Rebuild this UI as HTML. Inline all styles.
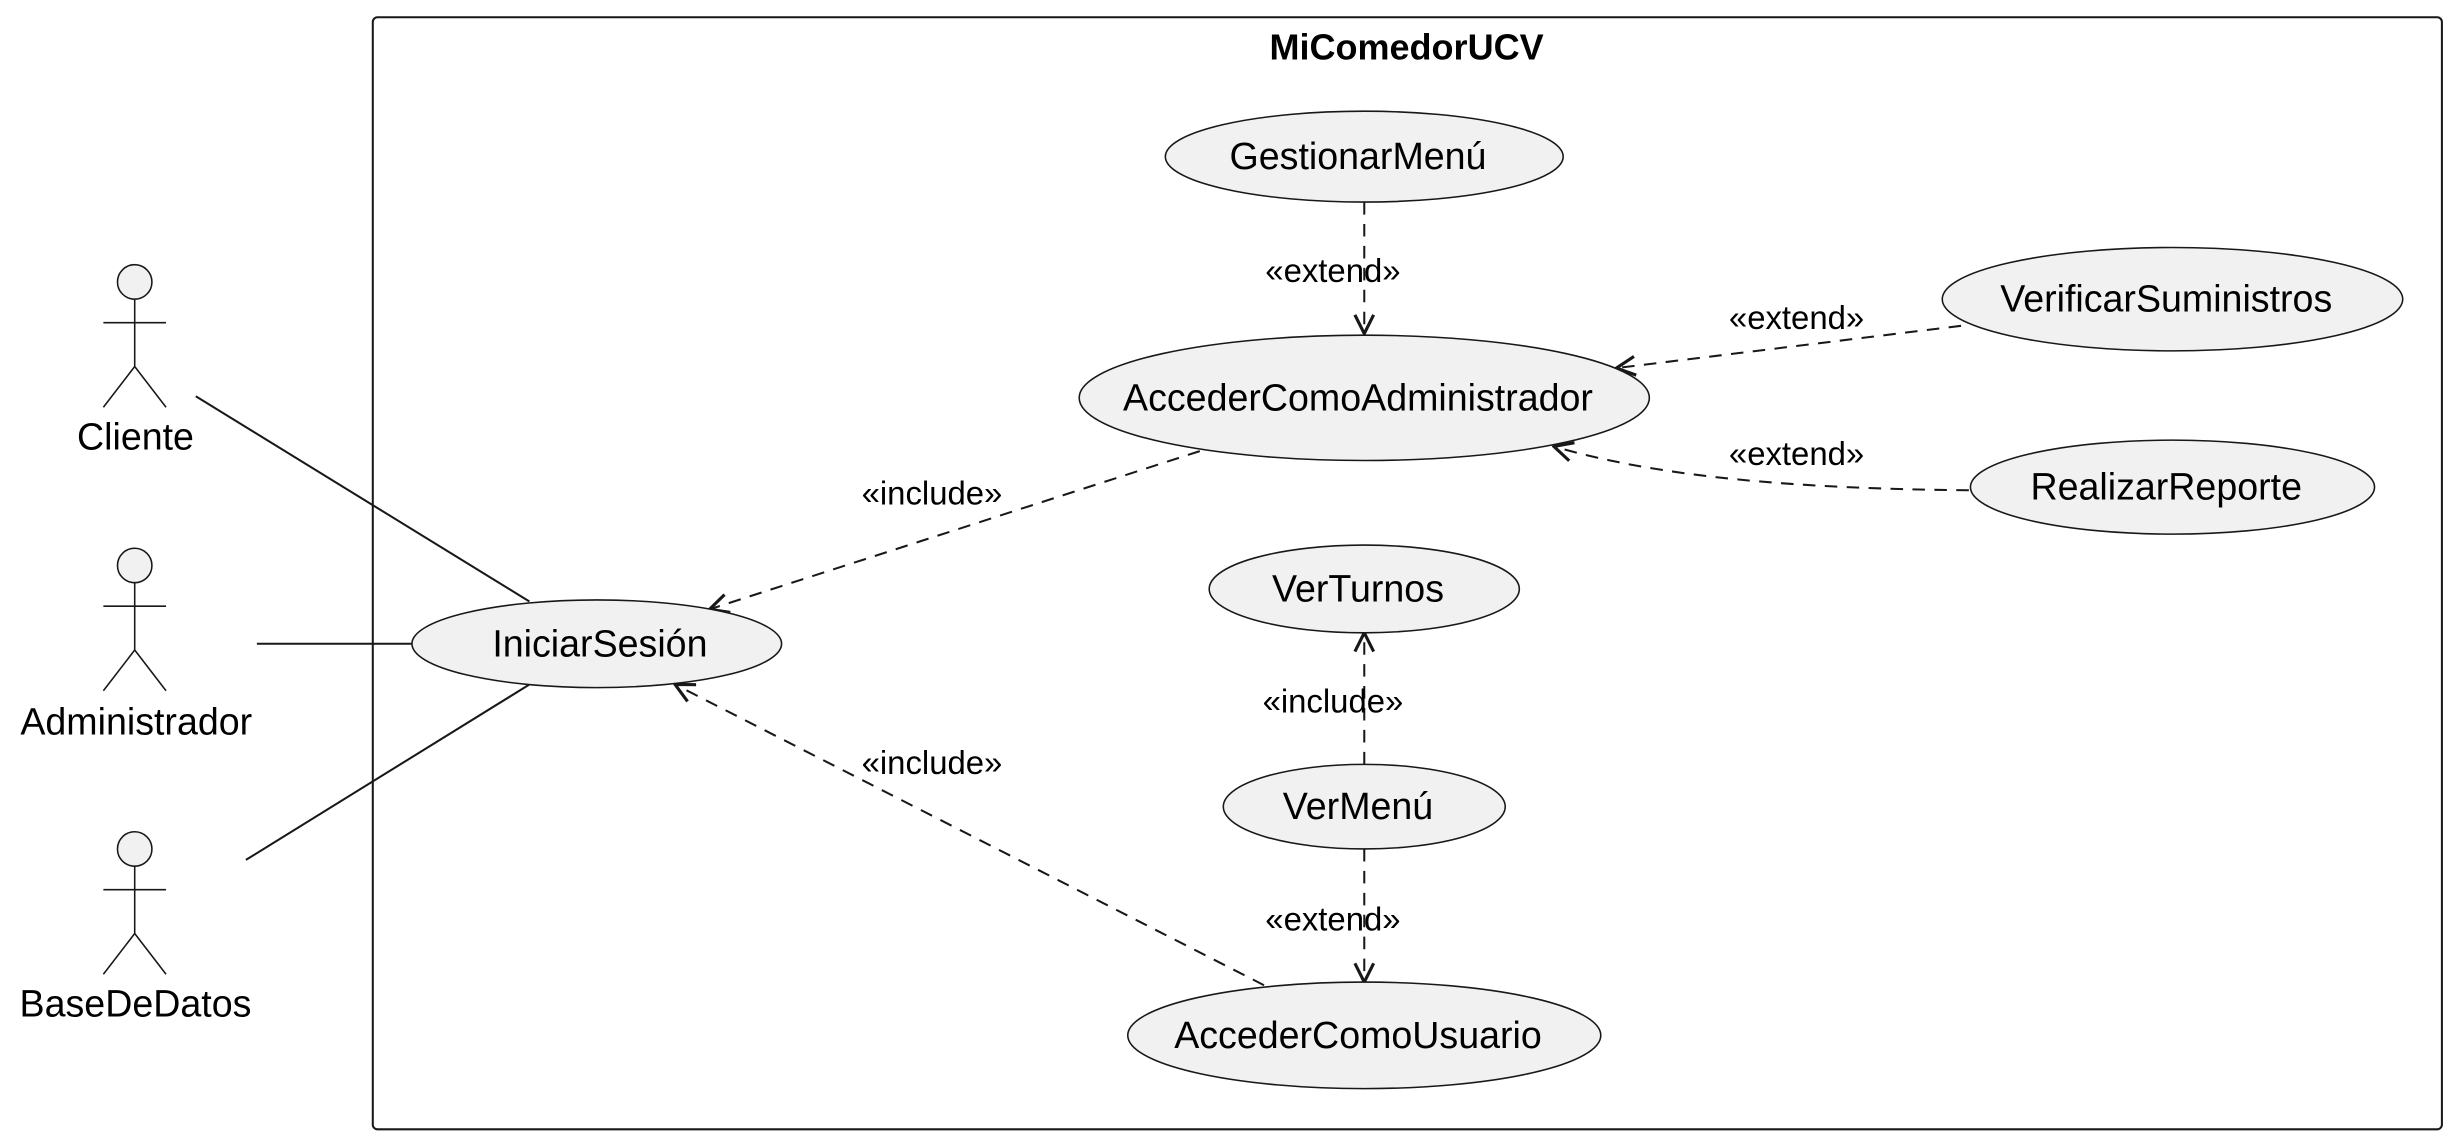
<!DOCTYPE html>
<html><head><meta charset="utf-8"><style>
html,body{margin:0;padding:0;background:#fff;}
svg{display:block;}
text{font-family:"Liberation Sans",sans-serif;fill:#000;}
</style></head><body>
<svg width="2456" height="1145" viewBox="0 0 1568 731" xmlns="http://www.w3.org/2000/svg">
<defs>
<marker id="a" viewBox="0 0 14 14" refX="13" refY="7" markerWidth="14" markerHeight="14" markerUnits="userSpaceOnUse" orient="auto">
<path d="M1,1 L13,7 L1,13" fill="none" stroke="#181818" stroke-width="2"/>
</marker>
</defs>
<rect x="238" y="11" width="1321" height="710" rx="3" fill="none" stroke="#181818" stroke-width="1.3"/>
<text x="898" y="38" font-size="23" font-weight="bold" text-anchor="middle">MiComedorUCV</text>

<g fill="#F1F1F1" stroke="#181818" stroke-width="1">
<circle cx="86" cy="180" r="11"/>
<circle cx="86" cy="361" r="11"/>
<circle cx="86" cy="542" r="11"/>
</g>
<g stroke="#181818" stroke-width="1" fill="none">
<path d="M86,191V234M66,206H106M86,234L66,260M86,234L106,260"/>
<path d="M86,372V415M66,387H106M86,415L66,441M86,415L106,441"/>
<path d="M86,553V596M66,568H106M86,596L66,622M86,596L106,622"/>
</g>
<g font-size="24" text-anchor="middle">
<text x="86.5" y="287">Cliente</text>
<text x="87" y="469">Administrador</text>
<text x="86.5" y="649">BaseDeDatos</text>
</g>

<g stroke="#181818" stroke-width="1.3" fill="none">
<path d="M125,253L338,384"/>
<path d="M164,411L263,411"/>
<path d="M157,549L338,437"/>
</g>

<g stroke="#181818" stroke-width="1.3" fill="none" stroke-dasharray="8,6">
<path d="M871,129L871,213" marker-end="url(#a)"/>
<path d="M1252,208L1032,235" marker-end="url(#a)"/>
<path d="M1257,313C1150,312 1060,305 992,285" marker-end="url(#a)"/>
<path d="M766,288L453,389" marker-end="url(#a)"/>
<path d="M807,629L431,437" marker-end="url(#a)"/>
<path d="M871,488L871,404" marker-end="url(#a)"/>
<path d="M871,542L871,627" marker-end="url(#a)"/>
</g>

<g fill="#F1F1F1" stroke="#181818" stroke-width="1">
<ellipse cx="871" cy="100" rx="127" ry="29"/>
<ellipse cx="871" cy="254" rx="182" ry="40"/>
<ellipse cx="1387" cy="191" rx="147" ry="33"/>
<ellipse cx="1387" cy="311" rx="129" ry="30"/>
<ellipse cx="871" cy="376" rx="99" ry="28"/>
<ellipse cx="381" cy="411" rx="118" ry="28"/>
<ellipse cx="871" cy="515" rx="90" ry="27"/>
<ellipse cx="871" cy="661" rx="151" ry="34"/>
</g>
<g font-size="24" text-anchor="middle">
<text x="867" y="108">GestionarMenú</text>
<text x="867" y="262">AccederComoAdministrador</text>
<text x="1383" y="199">VerificarSuministros</text>
<text x="1383" y="319">RealizarReporte</text>
<text x="867" y="384">VerTurnos</text>
<text x="383" y="419">IniciarSesión</text>
<text x="867" y="523">VerMenú</text>
<text x="867" y="669">AccederComoUsuario</text>
</g>
<g font-size="21" text-anchor="middle">
<text x="851" y="180">«extend»</text>
<text x="1147" y="210">«extend»</text>
<text x="1147" y="297">«extend»</text>
<text x="595" y="322">«include»</text>
<text x="595" y="494">«include»</text>
<text x="851" y="455">«include»</text>
<text x="851" y="594">«extend»</text>
</g>
</svg>
</body></html>
